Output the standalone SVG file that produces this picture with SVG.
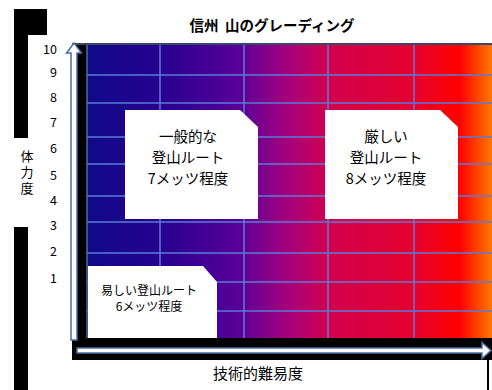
<svg xmlns="http://www.w3.org/2000/svg" width="492" height="390" viewBox="0 0 492 390">
<defs>
<linearGradient id="heat" x1="87" y1="0" x2="492" y2="0" gradientUnits="userSpaceOnUse">
<stop offset="0" stop-color="#0e0a88"/>
<stop offset="0.2" stop-color="#2a008f"/>
<stop offset="0.38" stop-color="#5a0098"/>
<stop offset="0.5" stop-color="#a8007a"/>
<stop offset="0.6" stop-color="#d2004c"/>
<stop offset="0.8" stop-color="#e40030"/>
<stop offset="0.92" stop-color="#ff0000"/>
<stop offset="1" stop-color="#ff7a00"/>
</linearGradient>
<style>
.jp{font-family:"Noto Sans CJK JP","Noto Sans",sans-serif;fill:#000}
.num{font-size:12.5px;text-anchor:end}
.lbl{font-size:14.5px;text-anchor:middle}
.sm{font-size:12px;text-anchor:middle}
.box{fill:#fff}
.grid{stroke:#5b7bd8;stroke-width:1.5}
.axis{fill:#fff;stroke:#4a6f9f;stroke-width:1.5}
.blk{fill:#000}
</style>
</defs>

<g id="frame">
<path class="blk" d="M14 9H47V35H28V138H14Z"/>
<rect class="blk" x="14" y="227" width="14" height="163"/>
<rect class="blk" x="72" y="43" width="420" height="317"/>
<rect class="blk" x="487" y="360" width="2" height="30"/>
</g>

<g id="plot">
<rect x="87" y="44" width="405" height="294" fill="url(#heat)"/>
<g class="grid">
<line x1="160" y1="44" x2="160" y2="338"/>
<line x1="244" y1="44" x2="244" y2="338"/>
<line x1="328" y1="44" x2="328" y2="338"/>
<line x1="414" y1="44" x2="414" y2="338"/>
<line x1="87" y1="75" x2="492" y2="75"/>
<line x1="87" y1="103" x2="492" y2="103"/>
<line x1="87" y1="137" x2="492" y2="137"/>
<line x1="87" y1="164" x2="492" y2="164"/>
<line x1="87" y1="196" x2="492" y2="196"/>
<line x1="87" y1="222" x2="492" y2="222"/>
<line x1="87" y1="253" x2="492" y2="253"/>
<line x1="87" y1="282" x2="492" y2="282"/>
<line x1="87" y1="311" x2="492" y2="311"/>
</g>
<line x1="72" y1="44" x2="492" y2="44" stroke="#3a4868" stroke-width="2"/>
<line x1="87" y1="45" x2="87" y2="338" stroke="#4a6f9f" stroke-width="1.5"/>
</g>

<text class="jp" x="272" y="31" font-size="14.5" font-weight="bold" text-anchor="middle" xml:space="preserve">信州  山のグレーディング</text>

<g id="y-ticks" class="jp num">
<text x="57" y="54">10</text>
<text x="57" y="77">9</text>
<text x="57" y="102">8</text>
<text x="57" y="127">7</text>
<text x="57" y="153">6</text>
<text x="57" y="180">5</text>
<text x="57" y="205">4</text>
<text x="57" y="230">3</text>
<text x="57" y="256">2</text>
<text x="57" y="283">1</text>
</g>

<text id="y-title" class="jp" x="27" y="150" font-size="13" writing-mode="vertical-rl" letter-spacing="3">体力度</text>

<text id="x-title" class="jp" x="258" y="379" font-size="15" text-anchor="middle">技術的難易度</text>

<g id="node-normal">
<path class="box" d="M125 110H240L258 127V219H125Z"/>
<g class="jp lbl">
<text x="188" y="142">一般的な</text>
<text x="188" y="163">登山ルート</text>
<text x="188" y="184">7メッツ程度</text>
</g>
</g>

<g id="node-hard">
<path class="box" d="M325 110H440L458 127V219H325Z"/>
<g class="jp lbl">
<text x="386" y="142">厳しい</text>
<text x="386" y="163">登山ルート</text>
<text x="386" y="184">8メッツ程度</text>
</g>
</g>

<g id="node-easy">
<path class="box" d="M88 266H203L217 282V338H88Z"/>
<g class="jp sm">
<text x="149" y="295">易しい登山ルート</text>
<text x="149" y="311">6メッツ程度</text>
</g>
</g>

<g id="connectors">
<path class="axis" d="M71 340V53H66.5L74 43L81.5 53H77V340Z"/>
<path class="axis" d="M77 348H482V342.5L491 350.5L482 358.5V353H77Z"/>
</g>
</svg>
